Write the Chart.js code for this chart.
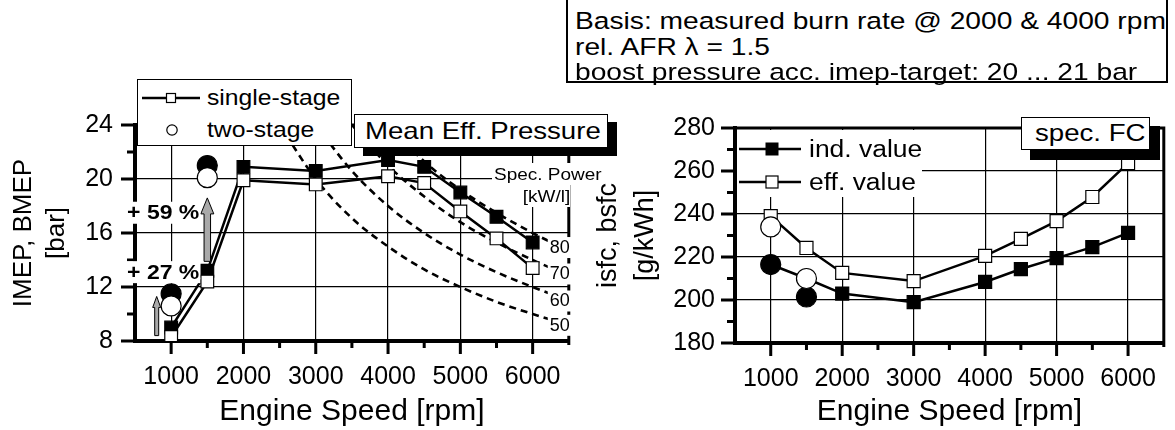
<!DOCTYPE html>
<html><head><meta charset="utf-8">
<script src="https://cdn.jsdelivr.net/npm/chart.js@4.4.0/dist/chart.umd.min.js"></script>
<style>
html,body{margin:0;padding:0;background:#fff;}
#wrap{position:relative;width:1175px;height:430px;overflow:hidden;font-family:"Liberation Sans",Arial,sans-serif;color:#000;}
canvas{position:absolute;top:0;}
#c1{left:0;}
#c2{left:580px;}
.ov{position:absolute;z-index:2;box-sizing:border-box;}
.st{display:inline-block;transform:scaleX(1.15);transform-origin:0 50%;white-space:nowrap;}
.str{display:inline-block;transform:scaleX(1.15);transform-origin:100% 50%;white-space:nowrap;}
.row{position:absolute;white-space:nowrap;}
</style></head>
<body><div id="wrap">
<canvas id="c1" width="580" height="430"></canvas>
<canvas id="c2" width="595" height="430"></canvas>

<div class="ov" style="left:566px;top:-2px;width:602px;height:85px;border:2px solid #000;background:#fff;padding:8px 0 0 7px;font-size:24.5px;line-height:25.5px;">
<div><span class="st">Basis: measured burn rate @ 2000 &amp; 4000 rpm</span></div>
<div><span class="st">rel. AFR λ = 1.5</span></div>
<div><span class="st">boost pressure acc. imep-target: 20 ... 21 bar</span></div>
</div>

<div class="ov" style="left:137px;top:79px;width:215px;height:67px;border:1.5px solid #000;background:#fff;"></div>
<svg class="ov" style="left:142px;top:91px;" width="60" height="14"><line x1="0" y1="7" x2="58" y2="7" stroke="#000" stroke-width="2.5"/><rect x="24.5" y="2.5" width="9" height="9" fill="#fff" stroke="#000" stroke-width="1.2"/></svg>
<div class="ov row" style="left:207px;top:85px;height:26px;line-height:26px;font-size:21.5px;"><span class="st">single-stage</span></div>
<svg class="ov" style="left:164px;top:122px;" width="16" height="16"><circle cx="8" cy="8" r="5.2" fill="#fff" stroke="#000" stroke-width="1.2"/></svg>
<div class="ov row" style="left:207px;top:117px;height:26px;line-height:26px;font-size:21.5px;"><span class="st">two-stage</span></div>

<div class="ov" style="left:363px;top:122px;width:254px;height:34px;background:#000;"></div>
<div class="ov" style="left:354px;top:114px;width:254px;height:34px;border:1.5px solid #000;background:#fff;padding-left:10px;font-size:24px;line-height:31px;"><span class="st">Mean Eff. Pressure</span></div>

<div class="ov" style="left:492px;top:163px;width:88px;height:22px;background:#fff;font-size:16.5px;line-height:22px;padding-left:2px;"><span class="st">Spec. Power</span></div>
<div class="ov" style="left:522px;top:185px;width:48px;height:22px;background:#fff;font-size:16.5px;line-height:22px;text-align:right;"><span class="str">[kW/l]</span></div>

<div class="ov" style="left:737px;top:130px;width:185px;height:67px;background:#fff;"></div>
<svg class="ov" style="left:739px;top:142px;" width="64" height="14"><line x1="0" y1="7" x2="62" y2="7" stroke="#000" stroke-width="2.5"/><rect x="27" y="1" width="12" height="12" fill="#000" stroke="#000" stroke-width="1"/></svg>
<div class="ov row" style="left:809px;top:136px;height:26px;line-height:26px;font-size:23px;"><span class="st">ind. value</span></div>
<svg class="ov" style="left:739px;top:175px;" width="64" height="14"><line x1="0" y1="7" x2="62" y2="7" stroke="#000" stroke-width="2.5"/><rect x="27" y="1" width="12" height="12" fill="#fff" stroke="#000" stroke-width="1.2"/></svg>
<div class="ov row" style="left:809px;top:169px;height:26px;line-height:26px;font-size:23px;"><span class="st">eff. value</span></div>

<div class="ov" style="left:1030px;top:126px;width:130px;height:34px;background:#000;"></div>
<div class="ov" style="left:1021px;top:117px;width:129px;height:33px;border:1.5px solid #000;background:#fff;padding-left:13px;font-size:24px;line-height:30px;"><span class="st">spec. FC</span></div>
</div>

<script>
const FONT = '"Liberation Sans", Arial, sans-serif';

// ---------- left chart: mean effective pressure ----------
const speedSingle = [1000, 1500, 2000, 3000, 4000, 4500, 5000, 5500, 6000];
const imepSingle  = [9.0, 13.2, 20.9, 20.6, 21.4, 20.9, 19.0, 17.2, 15.3];
const bmepSingle  = [8.3, 12.4, 19.9, 19.6, 20.2, 19.7, 17.6, 15.6, 13.4];
const speedTwo    = [1000, 1500];
const imepTwo     = [11.5, 21.0];
const bmepTwo     = [10.6, 20.1];

// iso specific-power curves [kW/l]
const powerSpeeds = [2500, 3000, 3500, 4000, 4500, 5000, 5500, 6000, 6300];
const power50 = [24.0, 20.0, 17.1, 15.0, 13.3, 12.0, 10.9, 10.0, 9.5];
const power60 = [null, 24.0, 20.6, 18.0, 16.0, 14.4, 13.1, 12.0, 11.4];
const power70 = [null, null, 24.0, 21.0, 18.7, 16.8, 15.3, 14.0, 13.3];
const power80 = [null, null, null, 24.0, 21.3, 19.2, 17.5, 16.0, 15.2];
const powerLabels = ['80', '70', '60', '50'];
const powerLabelSpeed = 6375;
const powerLabelY = [14.96, 13.0, 11.0, 9.2];

// increase annotations
const pctLabels = ['+ 27 %', '+ 59 %'];
const pctSpeed = [890, 890];
const pctY = [13.1, 17.5];
const arrowSpeed = [800, 1500];
const arrowFrom = [8.4, 13.9];
const arrowTo = [11.3, 18.6];

// ---------- right chart: specific fuel consumption ----------
const isfcSingle = [216.5, 210.0, 203.0, 199.0, 208.4, 214.4, 219.5, 224.6, 231.2];
const bsfcSingle = [239.0, 224.2, 212.6, 208.8, 220.5, 228.4, 236.7, 247.9, 263.7];
const isfcTwo = [216.5, 201.4];
const bsfcTwo = [234.0, 210.0];

// ---------- ticks ----------
const xMajor = [1000, 2000, 3000, 4000, 5000, 6000];
const xMinor = [1500, 2500, 3500, 4500, 5500];
const yMajorL = [8, 12, 16, 20, 24];
const yMinorL = [10, 14, 18, 22];
const yMajorR = [180, 200, 220, 240, 260, 280];
const yMinorR = [190, 210, 230, 250, 270];

function pts(xs, ys) {
  return xs.map((v, i) => ({x: v, y: ys[i]})).filter(p => p.y !== null);
}
function markerSet(xs, ys, fill, style, r, order, line) {
  return {
    data: pts(xs, ys), showLine: line, borderColor: '#000', borderWidth: 2.5,
    pointStyle: style, pointRadius: r, pointHoverRadius: r,
    pointBackgroundColor: fill, pointBorderColor: '#000', pointBorderWidth: 1.2,
    order: order, tension: 0
  };
}
function dashSet(ys) {
  return {
    data: pts(powerSpeeds, ys), showLine: true, borderColor: '#000', borderWidth: 2.6,
    borderDash: [7, 5], pointRadius: 0, cubicInterpolationMode: 'monotone', order: 20
  };
}

function makeFrame(cfg) {
  return {
    id: 'frame' + cfg.name,
    afterDraw(chart) {
      const ctx = chart.ctx, a = chart.chartArea;
      const x = chart.scales.x, y = chart.scales.y;
      ctx.save();
      ctx.setLineDash([]);
      ctx.strokeStyle = '#000';
      ctx.lineCap = 'butt';
      ctx.lineWidth = 3;
      ctx.beginPath();
      ctx.moveTo(a.left, a.top); ctx.lineTo(a.right, a.top);
      ctx.moveTo(a.right, a.top - 1.5); ctx.lineTo(a.right, a.bottom + 4);
      ctx.stroke();
      ctx.beginPath();
      cfg.xMajor.forEach(v => { const p = x.getPixelForValue(v); ctx.moveTo(p, a.bottom); ctx.lineTo(p, a.bottom + 13); });
      cfg.xMinor.forEach(v => { const p = x.getPixelForValue(v); ctx.moveTo(p, a.bottom); ctx.lineTo(p, a.bottom + 7); });
      cfg.yMajor.forEach(v => { const p = y.getPixelForValue(v); ctx.moveTo(a.left, p); ctx.lineTo(a.left - 14, p); });
      cfg.yMinor.forEach(v => { const p = y.getPixelForValue(v); ctx.moveTo(a.left, p); ctx.lineTo(a.left - 8, p); });
      ctx.stroke();

      if (cfg.annotate) {
        arrowSpeed.forEach((s, i) => {
          const px = x.getPixelForValue(s);
          const y0 = y.getPixelForValue(arrowFrom[i]);
          const y1 = y.getPixelForValue(arrowTo[i]);
          const shaft = i === 0 ? 4 : 6.5, head = i === 0 ? 8 : 13, hl = i === 0 ? 11 : 16;
          ctx.beginPath();
          ctx.moveTo(px - shaft / 2, y0);
          ctx.lineTo(px - shaft / 2, y1 + hl);
          ctx.lineTo(px - head / 2, y1 + hl);
          ctx.lineTo(px, y1);
          ctx.lineTo(px + head / 2, y1 + hl);
          ctx.lineTo(px + shaft / 2, y1 + hl);
          ctx.lineTo(px + shaft / 2, y0);
          ctx.closePath();
          ctx.fillStyle = '#a9a9a9';
          ctx.fill();
          ctx.lineWidth = 1;
          ctx.stroke();
        });
        ctx.font = 'bold 20px ' + FONT;
        ctx.textBaseline = 'middle';
        ctx.textAlign = 'left';
        pctLabels.forEach((t, i) => {
          const w = ctx.measureText(t).width * 1.15;
          const cx = x.getPixelForValue(pctSpeed[i]);
          const cy = y.getPixelForValue(pctY[i]);
          ctx.fillStyle = '#fff';
          ctx.fillRect(cx - w / 2 - 1, cy - 11, w + 2, 22);
          ctx.save();
          ctx.translate(cx - w / 2, cy);
          ctx.scale(1.15, 1);
          ctx.fillStyle = '#000';
          ctx.fillText(t, 0, 1);
          ctx.restore();
        });
        ctx.font = '18px ' + FONT;
        ctx.textAlign = 'center';
        powerLabels.forEach((t, i) => {
          const cx = x.getPixelForValue(powerLabelSpeed);
          const cy = y.getPixelForValue(powerLabelY[i]);
          const w = ctx.measureText(t).width;
          ctx.fillStyle = '#fff';
          ctx.fillRect(cx - w / 2 - 2, cy - 10, w + 5, 21);
          ctx.fillStyle = '#000';
          ctx.fillText(t, cx, cy + 1);
        });
      }
      ctx.restore();
    }
  };
}

function scales(opt) {
  return {
    x: {
      type: 'linear', min: 500, max: 6500,
      afterBuildTicks: s => { s.ticks = xMajor.map(v => ({value: v})); },
      afterFit: s => { s.height = opt.xh; },
      ticks: {color: '#000', font: {family: FONT, size: 25}, padding: 0, maxRotation: 0, minRotation: 0, autoSkip: false, callback: v => String(v)},
      grid: {color: '#000', lineWidth: 1.2, drawTicks: true, tickLength: 21, tickColor: 'rgba(0,0,0,0)'},
      border: {display: true, color: '#000', width: 4},
      title: {display: true, text: 'Engine Speed [rpm]', color: '#000', font: {family: FONT, size: 30, lineHeight: 1.2}, padding: {top: 0, bottom: 0}}
    },
    y: {
      min: opt.ymin, max: opt.ymax,
      afterBuildTicks: s => { s.ticks = opt.yMajor.map(v => ({value: v})); },
      afterFit: s => { s.width = opt.yw; },
      ticks: {color: '#000', font: {family: FONT, size: 25}, padding: opt.ypad, callback: v => String(v)},
      grid: {color: '#000', lineWidth: 1.2, drawTicks: false},
      border: {display: true, color: '#000', width: 4},
      title: {display: true, text: opt.ytitle, color: '#000', font: {family: FONT, size: opt.ytsize, lineHeight: opt.ytlh}, padding: {top: opt.ytpad, bottom: 0}}
    }
  };
}

new Chart(document.getElementById('c1'), {
  type: 'scatter',
  data: {datasets: [
    markerSet(speedTwo, bmepTwo, '#fff', 'circle', 10, 0, false),
    markerSet(speedTwo, imepTwo, '#000', 'circle', 10, 1, false),
    markerSet(speedSingle, bmepSingle, '#fff', 'rect', 9, 2, true),
    markerSet(speedSingle, imepSingle, '#000', 'rect', 9, 3, true),
    dashSet(power50), dashSet(power60), dashSet(power70), dashSet(power80)
  ]},
  options: {
    responsive: false, animation: false, events: [],
    layout: {padding: {left: 0, right: 9, top: 125, bottom: 0}},
    plugins: {legend: {display: false}, tooltip: {enabled: false}},
    scales: scales({xh: 89, ymin: 8, ymax: 24, yMajor: yMajorL, yw: 135, ypad: 22,
      ytitle: ['IMEP, BMEP', '[bar]'], ytsize: 26, ytlh: 1.27, ytpad: 7})
  },
  plugins: [makeFrame({name: 'L', xMajor, xMinor, yMajor: yMajorL, yMinor: yMinorL, annotate: true})]
});

new Chart(document.getElementById('c2'), {
  type: 'scatter',
  data: {datasets: [
    markerSet(speedTwo, bsfcTwo, '#fff', 'circle', 10, 0, false),
    markerSet(speedTwo, isfcTwo, '#000', 'circle', 10, 1, false),
    markerSet(speedSingle, bsfcSingle, '#fff', 'rect', 9.2, 2, true),
    markerSet(speedSingle, isfcSingle, '#000', 'rect', 9.2, 3, true)
  ]},
  options: {
    responsive: false, animation: false, events: [],
    layout: {padding: {left: 0, right: 3, top: 128, bottom: 0}},
    plugins: {legend: {display: false}, tooltip: {enabled: false}},
    scales: scales({xh: 87, ymin: 180, ymax: 280, yMajor: yMajorR, yw: 155, ypad: 20,
      ytitle: ['isfc, bsfc', '[g/kWh]'], ytsize: 27, ytlh: 1.37, ytpad: 10})
  },
  plugins: [makeFrame({name: 'R', xMajor, xMinor, yMajor: yMajorR, yMinor: yMinorR, annotate: false})]
});
</script>
</body></html>
